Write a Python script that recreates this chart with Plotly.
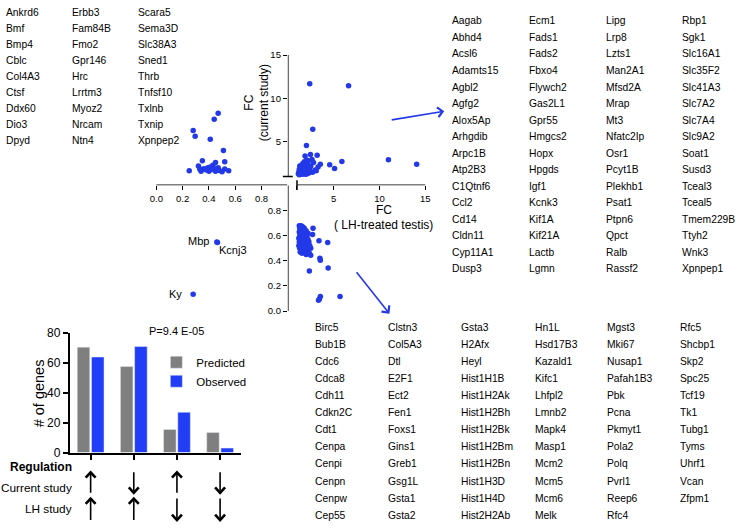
import plotly.graph_objects as go

W, H = 739, 528

# ---------------- data ----------------
# Upper-left quadrant: FC (LH-treated testis) < 1, FC (current study) > 1
ul_x = [0.47, 0.44, 0.28, 0.295, 0.41, 0.51, 0.52, 0.35, 0.25, 0.32, 0.33, 0.34, 0.36, 0.38,
        0.40, 0.41, 0.42, 0.43, 0.44, 0.45, 0.45, 0.47, 0.48, 0.50, 0.52, 0.55, 0.39]
ul_y = [8.3, 7.6, 6.3, 5.65, 5.3, 4.0, 2.7, 2.8, 1.65, 2.2, 1.85, 1.6, 1.9, 1.75,
        1.6, 2.1, 1.8, 2.3, 1.9, 2.6, 1.6, 2.0, 1.7, 1.55, 1.85, 1.65, 2.0]

# Upper-right quadrant: both > 1
ur_x = [2.39, 6.63, 2.72, 2.03, 2.47, 1.88, 3.2, 5.9, 10.98, 14.06, 4.57, 5.1, 2.64, 3.55, 3.3,
        3.0, 2.7, 3.1, 2.5, 2.8,
        1.15, 1.2, 1.25, 1.3, 1.35, 1.4, 1.45, 1.5, 1.5, 1.55,
        1.6, 1.6, 1.65, 1.7, 1.7, 1.75, 1.8, 1.8, 1.85, 1.9,
        1.9, 1.95, 2.0, 2.0, 2.05, 2.1, 2.1, 2.15, 2.2, 2.2,
        2.25, 2.3, 2.3, 2.35, 2.4, 1.3, 1.45, 1.55, 1.65, 1.75,
        1.85, 2.05, 1.25, 1.95]
ur_y = [11.7, 11.46, 6.44, 4.57, 3.52, 3.37, 3.45, 2.73, 2.92, 2.4, 2.36, 1.91, 2.96, 2.4, 2.1,
        1.75, 1.5, 1.65, 2.2, 2.6,
        1.3, 1.5, 1.8, 1.4, 1.6, 2.0, 1.3, 1.7, 2.3, 1.5,
        1.9, 1.25, 2.5, 1.6, 2.1, 1.4, 1.8, 2.7, 1.3, 2.2,
        1.55, 1.95, 1.35, 2.5, 1.7, 2.0, 1.3, 2.35, 1.5, 1.85,
        2.8, 1.4, 2.1, 1.65, 1.95, 2.2, 1.75, 2.0, 1.45, 1.9,
        2.45, 2.9, 1.2, 1.25]

# Lower-right quadrant: FC (LH) > 1, FC (current) < 1
lr_x = [2.75, 2.7, 3.4, 4.35, 2.5, 2.5, 3.5, 3.55, 4.4, 2.35, 3.55, 3.45, 3.35, 5.7,
        1.2, 1.2, 1.25, 1.25, 1.3, 1.3, 1.3, 1.35, 1.35, 1.4,
        1.4, 1.4, 1.45, 1.45, 1.5, 1.5, 1.5, 1.55, 1.55, 1.6,
        1.6, 1.6, 1.65, 1.65, 1.7, 1.7, 1.7, 1.75, 1.75, 1.8,
        1.8, 1.8, 1.85, 1.85, 1.9, 1.9, 1.95, 1.95, 2.0, 2.0,
        2.05, 2.1, 2.1, 2.15, 2.2, 2.2, 2.25, 2.3, 2.35, 2.4,
        1.25, 1.45, 1.65, 1.85, 1.35, 1.55, 2.0]
lr_y = [0.66, 0.61, 0.56, 0.545, 0.50, 0.444, 0.42, 0.405, 0.343, 0.318, 0.116, 0.095, 0.085, 0.116,
        0.52, 0.58, 0.63, 0.55, 0.50, 0.60, 0.66, 0.53, 0.57, 0.62,
        0.49, 0.55, 0.59, 0.65, 0.51, 0.56, 0.61, 0.54, 0.67, 0.58,
        0.50, 0.63, 0.55, 0.60, 0.52, 0.65, 0.57, 0.49, 0.62, 0.54,
        0.59, 0.66, 0.51, 0.56, 0.61, 0.48, 0.58, 0.53, 0.64, 0.50,
        0.56, 0.60, 0.47, 0.53, 0.57, 0.62, 0.50, 0.55, 0.46, 0.52,
        0.68, 0.68, 0.67, 0.64, 0.47, 0.46, 0.45]

# Lower-left quadrant: both < 1
ll_labels = ["Mbp", "Kcnj3", "Ky"]
ll_x = [0.46, 0.465, 0.28]
ll_y = [0.55, 0.545, 0.134]

# Bar chart
bar_groups = [0, 1, 2, 3]
predicted = [70.6, 57.6, 15.5, 13.4]
observed = [64, 71, 27, 3]
current_dir = ["up", "down", "up", "down"]
lh_dir = ["up", "up", "down", "down"]
p_value_text = "P=9.4 E-05"

# Gene lists (column-major)
genes_ul = ["Ankrd6", "Bmf", "Bmp4", "Cblc", "Col4A3", "Ctsf", "Ddx60", "Dio3", "Dpyd",
            "Erbb3", "Fam84B", "Fmo2", "Gpr146", "Hrc", "Lrrtm3", "Myoz2", "Nrcam", "Ntn4",
            "Scara5", "Sema3D", "Slc38A3", "Sned1", "Thrb", "Tnfsf10", "Txlnb", "Txnip", "Xpnpep2"]
genes_ur = ["Aagab", "Abhd4", "Acsl6", "Adamts15", "Agbl2", "Agfg2", "Alox5Ap", "Arhgdib",
            "Arpc1B", "Atp2B3", "C1Qtnf6", "Ccl2", "Cd14", "Cldn11", "Cyp11A1", "Dusp3",
            "Ecm1", "Fads1", "Fads2", "Fbxo4", "Flywch2", "Gas2L1", "Gpr55", "Hmgcs2",
            "Hopx", "Hpgds", "Igf1", "Kcnk3", "Kif1A", "Kif21A", "Lactb", "Lgmn",
            "Lipg", "Lrp8", "Lzts1", "Man2A1", "Mfsd2A", "Mrap", "Mt3", "Nfatc2Ip",
            "Osr1", "Pcyt1B", "Plekhb1", "Psat1", "Ptpn6", "Qpct", "Ralb", "Rassf2",
            "Rbp1", "Sgk1", "Slc16A1", "Slc35F2", "Slc41A3", "Slc7A2", "Slc7A4", "Slc9A2",
            "Soat1", "Susd3", "Tceal3", "Tceal5", "Tmem229B", "Ttyh2", "Wnk3", "Xpnpep1"]
genes_lr = ["Birc5", "Bub1B", "Cdc6", "Cdca8", "Cdh11", "Cdkn2C", "Cdt1", "Cenpa", "Cenpi", "Cenpn", "Cenpw", "Cep55",
            "Clstn3", "Col5A3", "Dtl", "E2F1", "Ect2", "Fen1", "Foxs1", "Gins1", "Greb1", "Gsg1L", "Gsta1", "Gsta2",
            "Gsta3", "H2Afx", "Heyl", "Hist1H1B", "Hist1H2Ak", "Hist1H2Bh", "Hist1H2Bk", "Hist1H2Bm", "Hist1H2Bn",
            "Hist1H3D", "Hist1H4D", "Hist2H2Ab",
            "Hn1L", "Hsd17B3", "Kazald1", "Kifc1", "Lhfpl2", "Lmnb2", "Mapk4", "Masp1", "Mcm2", "Mcm5", "Mcm6", "Melk",
            "Mgst3", "Mki67", "Nusap1", "Pafah1B3", "Pbk", "Pcna", "Pkmyt1", "Pola2", "Polq", "Pvrl1", "Reep6", "Rfc4",
            "Rfc5", "Shcbp1", "Skp2", "Spc25", "Tcf19", "Tk1", "Tubg1", "Tyms", "Uhrf1", "Vcan", "Zfpm1"]

# ---------------- helpers ----------------
def PX(x):
    return x / W


def PY(y):
    return 1 - y / H


FONT = "Arial, Liberation Sans, sans-serif"
BLUE_PT = "#2339E8"
BLUE_BAR = "#213DF5"
GRAY = "#7F7F7F"

fig = go.Figure()

mk = dict(color=BLUE_PT, size=5.5)
fig.add_trace(go.Scatter(x=ul_x, y=ul_y, xaxis="x", yaxis="y", mode="markers", marker=mk,
                         showlegend=False, cliponaxis=False))
fig.add_trace(go.Scatter(x=ur_x, y=ur_y, xaxis="x2", yaxis="y", mode="markers", marker=mk,
                         showlegend=False, cliponaxis=False))
fig.add_trace(go.Scatter(x=lr_x, y=lr_y, xaxis="x2", yaxis="y2", mode="markers", marker=mk,
                         showlegend=False, cliponaxis=False))
fig.add_trace(go.Scatter(x=ll_x, y=ll_y, xaxis="x", yaxis="y2", mode="markers", marker=mk,
                         showlegend=False, cliponaxis=False))

fig.add_trace(go.Bar(x=bar_groups, y=predicted, name="Predicted", marker_color=GRAY,
                     xaxis="x3", yaxis="y3"))
fig.add_trace(go.Bar(x=bar_groups, y=observed, name="Observed", marker_color=BLUE_BAR,
                     xaxis="x3", yaxis="y3"))

# geometry (pixels)
L_X0, L_PPU = 157.0, 132.0      # left FC axis: px at 0, px per unit
R_X0, R_PPU = 289.0, 9.2        # right FC axis
U_Y0, U_PPU = 183.0, 8.91       # upper FC axis
D_Y0, D_PPU = 312.3, 129.0      # lower FC axis

xl_rng = [-0.05, 1.0]
xr_rng = [0, 15.3]
yu_rng = [0, 15.3]
yd_rng = [-0.02, 1.0]

tickfont = dict(family=FONT, size=9.5, color="black")
common = dict(showgrid=False, zeroline=False, showline=False, ticks="outside",
              ticklen=4, tickwidth=1.3, tickcolor="black", tickfont=tickfont, fixedrange=True)

fig.update_layout(
    xaxis=dict(domain=[PX(L_X0 + xl_rng[0] * L_PPU), PX(L_X0 + xl_rng[1] * L_PPU)], range=xl_rng,
               anchor="y", tickvals=[0, 0.2, 0.4, 0.6, 0.8],
               ticktext=["0.0", "0.2", "0.4", "0.6", "0.8"], **common),
    xaxis2=dict(domain=[PX(R_X0), PX(R_X0 + xr_rng[1] * R_PPU)], range=xr_rng, anchor="y",
                tickvals=[1, 5, 10, 15], ticktext=["", "5", "10", "15"], **common),
    yaxis=dict(domain=[PY(U_Y0), PY(U_Y0 - yu_rng[1] * U_PPU)], range=yu_rng, anchor="x2",
               tickvals=[1, 5, 10, 15], ticktext=["", "5", "10", "15"], **common),
    yaxis2=dict(domain=[PY(D_Y0 - yd_rng[0] * D_PPU), PY(D_Y0 - yd_rng[1] * D_PPU)], range=yd_rng,
                anchor="x2", tickvals=[0, 0.2, 0.4, 0.6, 0.8],
                ticktext=["0.0", "0.2", "0.4", "0.6", "0.8"], **common),
)

# bar chart axes
B_X0, B_PPU = 91.0, 43.33
bx_rng = [(70 - B_X0) / B_PPU, (241.7 - B_X0) / B_PPU]
fig.update_layout(
    xaxis3=dict(domain=[PX(70), PX(241.7)], range=bx_rng, anchor="y3", showgrid=False,
                zeroline=False, showline=True, linecolor="black", linewidth=2,
                ticks="outside", ticklen=5, tickwidth=2, tickcolor="black",
                tickvals=bar_groups, showticklabels=False, fixedrange=True),
    yaxis3=dict(domain=[PY(457.7), PY(335)], range=[0, 80], anchor="x3", showgrid=False,
                zeroline=False, showline=True, linecolor="black", linewidth=2,
                ticks="outside", ticklen=5, tickwidth=2, tickcolor="black",
                tickvals=[0, 20, 40, 60, 80], tickfont=dict(family=FONT, size=12, color="black"),
                fixedrange=True),
    barmode="group", bargap=0.34, bargroupgap=0.12,
    legend=dict(x=PX(157), y=PY(350), xanchor="left", yanchor="top",
                font=dict(family=FONT, size=11.5, color="black"), bgcolor="rgba(0,0,0,0)",
                itemclick=False, itemdoubleclick=False, tracegroupgap=0),
)

shapes = []
LW = 1.5
# left x axis line
shapes.append(dict(type="line", xref="x", yref="y", x0=0, x1=0.995, y0=0, y1=0,
                   line=dict(color="black", width=LW)))
# right x axis line
shapes.append(dict(type="line", xref="x2", yref="y", x0=1, x1=15, y0=0, y1=0,
                   line=dict(color="black", width=LW)))
# cap on right x axis at 1
shapes.append(dict(type="line", xref="x2", yref="paper", x0=1, x1=1, y0=PY(U_Y0 - 5), y1=PY(U_Y0 + 5),
                   line=dict(color="black", width=LW)))
# upper y axis line
shapes.append(dict(type="line", xref="x2", yref="y", x0=0, x1=0, y0=1, y1=15,
                   line=dict(color="black", width=LW)))
shapes.append(dict(type="line", xref="paper", yref="y", x0=PX(R_X0 - 5), x1=PX(R_X0 + 5), y0=1, y1=1,
                   line=dict(color="black", width=LW)))
# lower y axis line
shapes.append(dict(type="line", xref="x2", yref="y2", x0=0, x1=0, y0=0, y1=1.03,
                   line=dict(color="black", width=LW)))

# regulation arrows
hw = 5.0 / B_PPU
CH = 5.5


def arrow(xc, ytop, ybot, direction):
    out = [dict(type="line", xref="x3", yref="paper", x0=xc, x1=xc, y0=PY(ytop), y1=PY(ybot),
                line=dict(color="black", width=1.6))]
    if direction == "up":
        path = f"M {xc - hw},{PY(ytop + CH)} L {xc},{PY(ytop)} L {xc + hw},{PY(ytop + CH)}"
    else:
        path = f"M {xc - hw},{PY(ybot - CH)} L {xc},{PY(ybot)} L {xc + hw},{PY(ybot - CH)}"
    out.append(dict(type="path", xref="x3", yref="paper", path=path,
                    line=dict(color="black", width=2.6)))
    return out


for g, d in zip(bar_groups, current_dir):
    shapes += arrow(g, 478, 499, d)
for g, d in zip(bar_groups, lh_dir):
    shapes += arrow(g, 505, 527, d)

fig.update_layout(shapes=shapes)

ann = []


def txt(x, y, s, size=10.3, xanchor="left", **kw):
    ann.append(dict(x=PX(x), y=PY(y), xref="paper", yref="paper", text=s, showarrow=False,
                    xanchor=xanchor, yanchor="middle", font=dict(family=FONT, size=size, color="black"),
                    borderpad=0, **kw))


# gene lists
for i, g in enumerate(genes_ul):
    c, r = divmod(i, 9)
    txt([5, 71.7, 138][c], 5.5 + r * 16.46, g)
for i, g in enumerate(genes_ur):
    c, r = divmod(i, 16)
    txt([453, 530, 607.3, 684][c], 14.3 + r * 16.98, g)
for i, g in enumerate(genes_lr):
    c, r = divmod(i, 12)
    txt([315.7, 389, 462.3, 535.7, 608.3, 681.7][c], 329 + r * 17.55, g)

# labels of lower-left points
txt(211, 240, ll_labels[0], size=11, xanchor="right")
txt(219, 250, ll_labels[1], size=11)
txt(184, 295, ll_labels[2], size=11, xanchor="right")

# axis titles
ann.append(dict(x=PX(258), y=PY(98), xref="paper", yref="paper", text="FC<br>(current study)",
                showarrow=False, textangle=-90, xanchor="center", yanchor="middle",
                font=dict(family=FONT, size=12, color="black")))
txt(386, 208.5, "FC", size=12, xanchor="center")
txt(385, 224, "( LH-treated testis)", size=12, xanchor="center")

# blue arrows
ann.append(dict(x=PX(446), y=PY(107), ax=392 - 446, ay=116 - 107, xref="paper", yref="paper",
                text="", showarrow=True, arrowhead=4, arrowsize=1.2, arrowwidth=1.6, arrowcolor=BLUE_PT))
ann.append(dict(x=PX(391), y=PY(315), ax=357 - 391, ay=272 - 315, xref="paper", yref="paper",
                text="", showarrow=True, arrowhead=4, arrowsize=1.2, arrowwidth=1.6, arrowcolor=BLUE_PT))

# bar chart texts
txt(177, 333, p_value_text, size=11, xanchor="center")
ann.append(dict(x=PX(40), y=PY(397), xref="paper", yref="paper", text="# of genes", showarrow=False,
                textangle=-90, xanchor="center", yanchor="middle",
                font=dict(family=FONT, size=14.5, color="black")))
txt(73, 473, "<b>Regulation</b>", size=12, xanchor="right")
txt(73, 494, "Current study", size=11.8, xanchor="right")
txt(73, 516, "LH study", size=11.8, xanchor="right")

fig.update_layout(annotations=ann, width=W, height=H, margin=dict(l=0, r=0, t=0, b=0),
                  paper_bgcolor="white", plot_bgcolor="rgba(0,0,0,0)", autosize=False,
                  font=dict(family=FONT, color="black"))

fig.write_html("out.html", config={"displayModeBar": False},
               post_script="document.body.style.margin='0px';document.body.style.overflow='hidden';")
